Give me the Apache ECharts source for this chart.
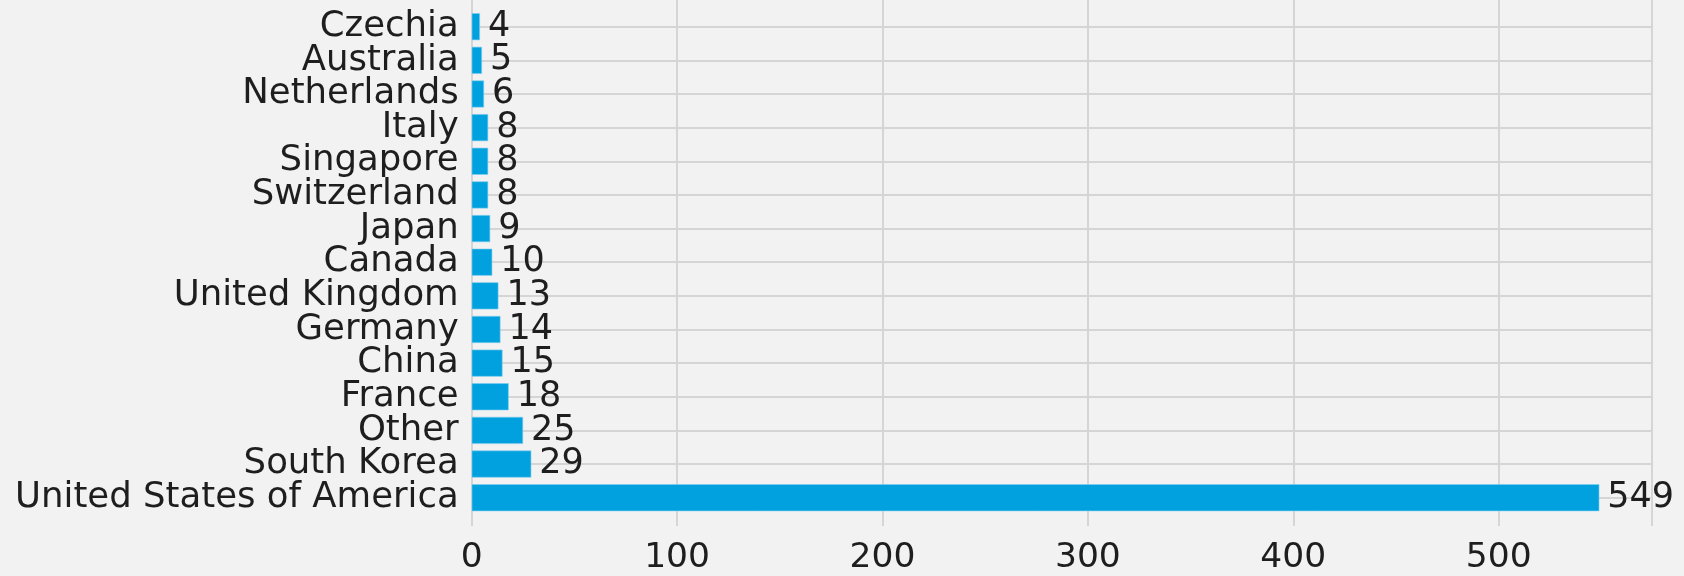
<!DOCTYPE html>
<html>
<head>
<meta charset="utf-8">
<script src="https://cdn.jsdelivr.net/npm/echarts@6/dist/echarts.min.js"></script>
<style>
  html, body { margin: 0; padding: 0; background: #f2f2f2; }
  #chart { width: 1684px; height: 576px; }
</style>
</head>
<body>
<div id="chart"></div>
<script>
// countries from top to bottom
const countries = ['Czechia', 'Australia', 'Netherlands', 'Italy', 'Singapore', 'Switzerland', 'Japan',
  'Canada', 'United Kingdom', 'Germany', 'China', 'France', 'Other', 'South Korea', 'United States of America']
const counts = [4, 5, 6, 8, 8, 8, 9, 10, 13, 14, 15, 18, 25, 29, 549]
const xTicks = [0, 100, 200, 300, 400, 500]

const xMin = xTicks[0]
const xMax = 574.5
const font = 'DejaVu Sans'
const gridColor = '#d5d5d5'

const chart = echarts.init(document.getElementById('chart'))

const option = {
  backgroundColor: '#f2f2f2',
  animation: false,
  grid: [
    // bars + horizontal lines (lines through category centres)
    { left: 471.7, right: 32.3, top: 26.7, bottom: 78.3 },
    // vertical lines + x tick labels, full height of the axes
    { left: 471.7, right: 32.3, top: 0, bottom: 45.3 }
  ],
  xAxis: [
    {
      gridIndex: 0, type: 'value', min: xMin, max: xMax,
      axisLine: { show: false }, axisTick: { show: false },
      axisLabel: { show: false }, splitLine: { show: false }
    },
    {
      gridIndex: 1, type: 'value', min: xMin, max: xMax, interval: 100,
      axisLine: { show: false }, axisTick: { show: false },
      axisLabel: {
        margin: 15, fontFamily: font, fontSize: 34.5, color: '#1e1e1e',
        formatter: v => (xTicks.includes(v) ? String(v) : '')
      },
      splitLine: { show: true, lineStyle: { color: gridColor, width: 2 } }
    }
  ],
  yAxis: [
    {
      gridIndex: 0, type: 'category', data: countries, inverse: true, boundaryGap: false,
      axisLine: { show: false }, axisTick: { show: false },
      axisLabel: { margin: 13, fontFamily: font, fontSize: 35.5, color: '#1e1e1e', interval: 0 },
      splitLine: { show: true, lineStyle: { color: gridColor, width: 2 } }
    },
    {
      gridIndex: 1, type: 'value', min: 0, max: 1, show: false
    }
  ],
  series: [
    {
      type: 'bar',
      xAxisIndex: 0,
      yAxisIndex: 0,
      data: counts,
      barWidth: 27,
      itemStyle: { color: '#00a1de', borderColor: '#7fcdee', borderWidth: 0.6 },
      label: {
        show: true,
        position: 'right',
        distance: 8,
        fontFamily: font,
        fontSize: 35,
        color: '#1e1e1e'
      }
    }
  ]
}

chart.setOption(option)
</script>
</body>
</html>
